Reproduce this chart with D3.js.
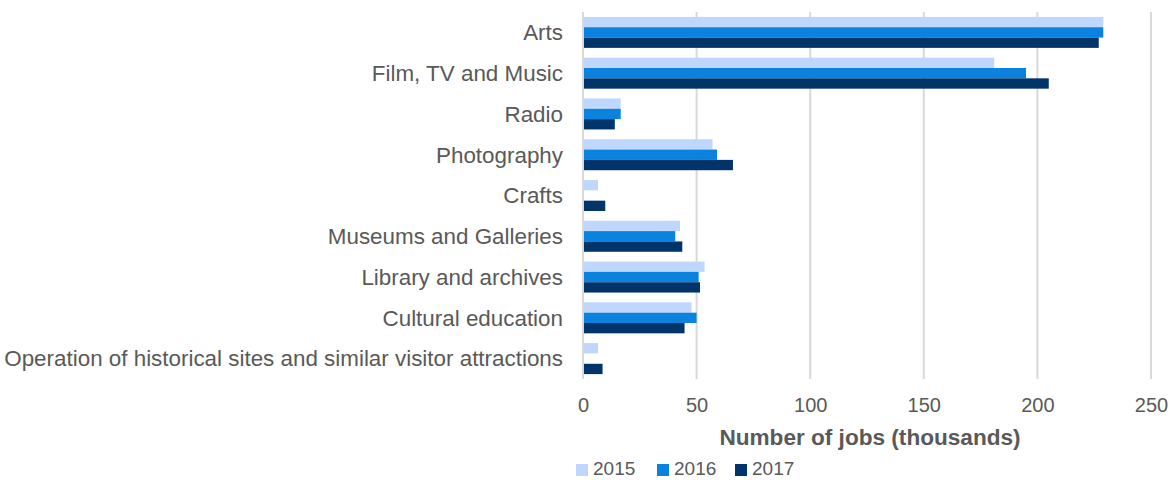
<!DOCTYPE html>
<html>
<head>
<meta charset="utf-8">
<script src="https://cdn.jsdelivr.net/npm/d3@7"></script>
<style>
  body { margin: 0; background: #fff; }
  text { font-family: 'Liberation Sans', Arial, sans-serif; fill: #595959; }
</style>
</head>
<body>
<div id="canvas"></div>
<script>
'use strict';

const categories = [
  'Arts',
  'Film, TV and Music',
  'Radio',
  'Photography',
  'Crafts',
  'Museums and Galleries',
  'Library and archives',
  'Cultural education',
  'Operation of historical sites and similar visitor attractions',
];
const years = ['2015', '2016', '2017'];
const jobs2015 = [229, 181, 16.6, 57, 6.6, 42.7, 53.5, 47.8, 6.6];
const jobs2016 = [229, 195, 16.6, 59, null, 40.6, 50.9, 50, null];
const jobs2017 = [227, 205, 14, 66, 9.8, 43.7, 51.5, 44.7, 8.6];
const xTicks = [0, 50, 100, 150, 200, 250];
const xTitle = 'Number of jobs (thousands)';

/**
 * Draws the grouped horizontal bar chart of creative jobs.
 */
class JobsChart {
  constructor() {
    /** @private @const {Object} */
    this.margins_ = {top: 12, right: 22, left: 583, bottom: 101};
    this.canvasWidth_ = 1173;
    this.canvasHeight_ = 480;
    this.chartWidth_ =
      this.canvasWidth_ - this.margins_.left - this.margins_.right;
    this.chartHeight_ =
      this.canvasHeight_ - this.margins_.top - this.margins_.bottom;
    this.colors_ = ['#bfd7fc', '#0a82de', '#00346a'];
    this.series_ = [jobs2015, jobs2016, jobs2017];

    this.svg_ = d3.select('#canvas').append('svg')
        .attr('width', this.canvasWidth_)
        .attr('height', this.canvasHeight_);
    this.chart_ = this.svg_.append('g')
        .attr('transform',
            `translate(${this.margins_.left}, ${this.margins_.top})`);

    this.x_ = d3.scaleLinear()
        .domain([0, 250])
        .range([0, this.chartWidth_]);
    this.y_ = d3.scaleBand()
        .domain(categories)
        .range([0, this.chartHeight_])
        .paddingInner(0.24)
        .paddingOuter(0.12);
    this.yInner_ = d3.scaleBand()
        .domain(years)
        .range([0, this.y_.bandwidth()]);
  }

  draw() {
    this.drawGrid_();
    this.drawBars_();
    this.drawAxes_();
    this.drawLegend_();
  }

  drawGrid_() {
    this.chart_.append('g')
        .selectAll('line')
        .data(xTicks)
        .join('line')
        .attr('x1', d => this.x_(d))
        .attr('x2', d => this.x_(d))
        .attr('y1', 0)
        .attr('y2', this.chartHeight_)
        .attr('stroke', '#d9d9d9')
        .attr('stroke-width', 2);
  }

  drawBars_() {
    this.series_.forEach((values, i) => {
      const rows = categories
          .map((c, j) => ({category: c, value: values[j]}))
          .filter(d => d.value !== null);
      this.chart_.append('g')
          .selectAll('rect')
          .data(rows)
          .join('rect')
          .attr('x', this.x_(0) + 1)
          .attr('y', d => this.y_(d.category) + this.yInner_(years[i]))
          .attr('width', d => this.x_(d.value) - this.x_(0) - 1)
          .attr('height', this.yInner_.bandwidth())
          .attr('fill', this.colors_[i]);
    });
  }

  drawAxes_() {
    const yAxis = this.chart_.append('g')
        .call(d3.axisLeft(this.y_).tickSize(0).tickPadding(20));
    yAxis.select('.domain').remove();
    yAxis.selectAll('text')
        .style('font-size', '22.4px')
        .attr('dy', '0.35em');

    const xAxis = this.chart_.append('g')
        .attr('transform', `translate(0, ${this.chartHeight_})`)
        .call(d3.axisBottom(this.x_).tickValues(xTicks)
            .tickSize(0).tickPadding(19));
    xAxis.select('.domain').remove();
    xAxis.selectAll('text').style('font-size', '20px');

    this.chart_.append('text')
        .attr('x', this.chartWidth_ / 2 + 3)
        .attr('y', this.chartHeight_ + 66)
        .attr('text-anchor', 'middle')
        .style('font-size', '22.6px')
        .style('font-weight', 'bold')
        .text(xTitle);
  }

  drawLegend_() {
    const offsets = [0, 81, 159];
    const legend = this.svg_.append('g')
        .attr('transform', 'translate(576, 464)');
    years.forEach((year, i) => {
      const item = legend.append('g')
          .attr('transform', `translate(${offsets[i]}, 0)`);
      item.append('rect')
          .attr('width', 12)
          .attr('height', 12)
          .attr('fill', this.colors_[i]);
      item.append('text')
          .attr('x', 17)
          .attr('y', 11)
          .style('font-size', '19px')
          .text(year);
    });
  }
}

new JobsChart().draw();
</script>
</body>
</html>
